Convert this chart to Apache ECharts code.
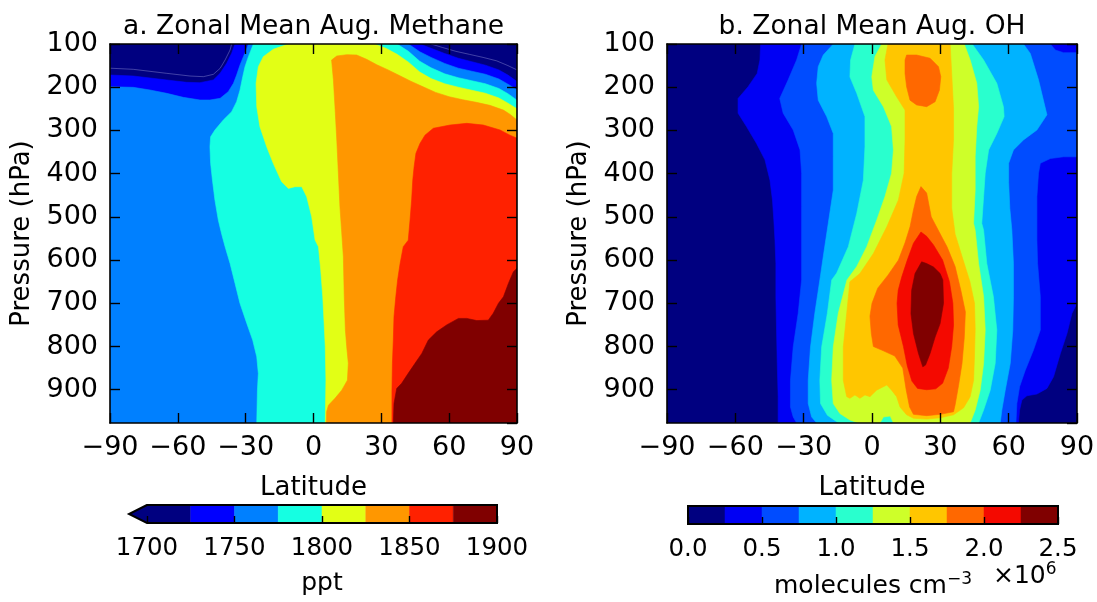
<!DOCTYPE html>
<html>
<head>
<meta charset="utf-8">
<script src="https://cdn.jsdelivr.net/npm/echarts@6/dist/echarts.min.js"></script>
<style>
  html, body { margin: 0; padding: 0; background: #fff; }
  #chart { width: 1097px; height: 602px; }
</style>
</head>
<body>
<div id="chart"></div>
<script>
// contour levels and fill colours (jet samples, as in the colorbars)
const ch4Levels = [1700, 1725, 1750, 1775, 1800, 1825, 1850, 1875, 1900]
const ch4Colors = ['#000080', '#0000ff', '#0080ff', '#15ffe2', '#e2ff15', '#ff9700', '#ff2100', '#800000']
const ch4Under = '#000080'
const ohLevels = [0, 0.25, 0.5, 0.75, 1.0, 1.25, 1.5, 1.75, 2.0, 2.25, 2.5]
const ohColors = ['#000080', '#0000f4', '#004cff', '#00b3ff', '#29ffce', '#ceff29', '#ffc600', '#ff6800', '#f40900', '#800000']

// methane: region above each level, as [latitude, hPa] outlines
const ch4Ge1725 = [[-90,171.8],[-79.7,174.1],[-64.9,183.3],[-56.1,188.7],[-50.2,189.5],[-44.3,183.3],[-41.3,167.9],[-38.4,144.8],[-36.2,121.6],[-34.7,100],
  [47,100],[52,110],[58,122],[64,133],[70,141],[76,149],[82,160],[86,172],[90,187],[90,977],[-90,977]]
const ch4Ge1750 = [[-90,198.8],[-79.7,200.3],[-72.3,206.5],[-64.9,214.2],[-57.6,223.5],[-50.2,229.6],[-45.8,229.6],[-41.3,225.8],[-37.7,210.3],[-35.4,191],[-34,171.8],[-32.5,148.6],[-31,129.3],[-29.5,110],[-28.8,100],
  [42,100],[47,118],[52,131],[58,145],[64,156],[70,163],[76,170],[82,181],[86,193],[90,206],[90,977],[-90,977]]
const ch4Ge1775 = [[-26.6,100],[-28.8,129.3],[-30.3,152.5],[-31.3,175.6],[-32.5,206.5],[-34,233.5],[-36.2,256.6],[-39.9,275.9],[-43.6,299.1],[-45.5,314.5],[-45.8,337.7],[-45.5,376.2],[-44.7,414.8],[-43.6,461.1],[-42.1,507.4],[-40.6,540],[-39.1,569.2],[-36.9,607.8],[-34.7,654.1],[-32.5,700.4],[-29.5,746.6],[-26.9,785.2],[-25.1,823.8],[-24.4,862.4],[-24.8,901],[-25.1,977],
  [90,977],[90,230],[86,215],[82,203],[76,192],[70,185],[64,178],[58,169],[52,155],[47,140],[42,117],[37,100]]
const ch4Ge1800 = [[-11.1,100],[-17.8,112.3],[-22.2,129.3],[-24.4,152.5],[-25.4,191.1],[-25.1,245.1],[-23.7,291.4],[-20.7,337.7],[-17.8,376.2],[-14.1,418.7],[-11.1,434.1],[-8.2,430.2],[-5.2,430.2],[-3,453.4],[-0.8,499.7],[0.7,553.7],[2.2,569.2],[3.2,623.2],[4.1,684.9],[4.7,746.6],[5.2,800.7],[5.5,877.8],[5.2,977],
  [90,977],[90,250],[86,237],[82,225],[76,214],[70,207],[64,200],[58,192],[52,180],[47,165],[42,142],[37,124],[32,110],[27,100]]
const ch4Ge1825 = [[5.7,977],[5.8,951],[6.6,936],[9.5,920],[12.5,901],[15,878],[15.4,839],[14.7,801],[14.1,762],[13.6,685],[13.2,592],[12.4,530],[11.7,477],[11,399],[10.3,322],[9.5,245],[8.8,183],[8,137],[10.3,127.8],[14.7,124.7],[19.1,125.5],[23.5,135.5],
  [28,148],[33,160],[38,173],[43,186],[48,198],[54,212],[60,222],[66,229],[72,235],[78,242],[84,253],[87,263],[90,276],[90,977]]
const ch4Ge1850 = [[34.7,977],[34.7,901],[34.9,839],[35.3,785],[35.6,731],[36.4,685],[37.2,646],[38.3,608],[39.7,569],[41.9,554],[42.7,507],[43.4,461],[43.9,415],[44.5,384],[45.3,353],[47.1,330],[49.3,311],[53,295],[60.4,287.5],[67.8,283.6],[75.1,287.5],[82.5,299],[86.9,311],[90,318],[90,977]]
const ch4Ge1875 = [[35.3,977],[35.6,932],[36.8,897],[39,885],[41.9,862],[44.9,839],[47.9,816],[50.8,785],[54.5,766],[58.9,750],[64.1,735],[67.8,735],[72.2,740],[77.3,739],[79.5,723],[81.8,700],[84,685],[86.2,654],[88.4,627],[90,619],[90,977]]
// faint 1700 ppt edges inside the navy area
const ch4Seam1700L = [[-90,156],[-79.7,158.6],[-64.9,167.9],[-54.6,174.1],[-48.7,175.6],[-44.3,170.2],[-41.3,156.3],[-39.1,137],[-36.9,113.9],[-36.2,100]]
const ch4Seam1700R = [[52,100],[57,108],[63,117],[69,124],[75,131],[81,139],[86,150],[90,160]]

// OH (1e6 molecules cm-3): region above each level
const ohGe025 = [[-48.9,100],[-49.2,137],[-50.4,168],[-54.4,199],[-58.8,226],[-58.8,260],[-55.1,291],[-50.7,330],[-47,368],[-44.8,415],[-43.7,461],[-43.1,507],[-42.6,554],[-42.2,608],[-42.2,685],[-41.9,762],[-41.6,839],[-41.2,916],[-41.2,977],
  [64.3,977],[64.8,947],[65.8,924],[68,914],[72.4,910],[76.8,897],[79.7,870],[82.7,816],[85.6,770],[87.8,723],[90,700],[90,100]]
const ohGe050 = [[-30.9,100],[-33.1,137],[-36.8,183],[-40.5,226],[-39,260],[-34.6,299],[-31.6,345],[-30.9,399],[-30.9,477],[-30.9,646],[-32.4,723],[-34.6,801],[-35.8,878],[-35.8,940],[-34.6,963],[-33.1,977],
  [63.2,977],[63.6,932],[64.8,893],[67.3,855],[70.9,808],[73.9,762],[73.9,685],[72.7,608],[72.4,554],[72.4,507],[72.4,453],[73.1,399],[73.9,376],[78.3,365],[84.1,361],[90,361],[90,120],[84.1,120],[80.5,114],[78.3,100]]
const ohGe075 = [[-17,100],[-21.4,125.5],[-23.6,152.5],[-24.3,191],[-23.6,230],[-19.9,268],[-17,307],[-17,361],[-17,438],[-19.2,515],[-21.4,592],[-22.9,646],[-25.1,723],[-27,801],[-28,878],[-28,932],[-26.5,963],[-24.3,977],
  [56.3,977],[57,947],[58.5,901],[60.7,839],[61.8,762],[62.1,685],[62.1,608],[61.4,531],[60.5,480],[60,420],[60,376],[62.1,345],[66.5,322],[72.4,299],[76.8,264],[73.1,183],[69.5,122],[66.5,100]]
const ohGe100 = [[-7.5,100],[-9.4,137],[-9.7,176],[-6.7,214],[-3.1,268],[-3.1,338],[-3.8,415],[-6.7,492],[-10.4,569],[-15.5,630],[-17.7,646],[-19.6,723],[-22.1,801],[-22.9,878],[-22.6,932],[-19.6,959],[-15.5,974],[-14,977],
  [46.8,977],[49,947],[51.9,901],[54.1,839],[54.8,762],[53.3,685],[50.4,608],[49,531],[48.2,515],[49,453],[49.7,399],[51.2,345],[54.8,307],[58,268],[57.7,245],[54.8,191],[49,137],[44,100]]
const ohGe125 = [[4.3,100],[1.3,129],[-0.1,176],[0.6,207],[5,245],[8.6,291],[9.4,345],[8.6,399],[5.7,453],[2.1,507],[-2.3,569],[-6.7,615],[-11,646],[-14.8,723],[-17,801],[-17.7,878],[-17,932],[-14.1,955],[-9.7,970],[-6,977],
  [3.5,977],[5,963],[8,961],[9.4,977],
  [43.1,977],[45.3,947],[47.5,901],[49,839],[49.7,762],[49,685],[46.8,608],[45.3,531],[44.6,515],[45.3,438],[45.3,361],[46,291],[46.8,245],[46,191],[43.1,137],[40.5,100]]
const ohGe150 = [[7,100],[5.7,137],[6.5,183],[10.8,222],[14.5,253],[14.5,322],[14.1,399],[11.6,461],[6.5,523],[0.6,585],[-5.3,631],[-9.7,650],[-11.1,723],[-12.6,801],[-12.6,878],[-11.1,916],[-9.7,920],[-7.5,912],[-5.3,920],[-3.1,912],[-0.9,916],[2,901],[5,893],[6.5,889],[8.6,901],[10.8,916],[12.3,940],[15.2,958],[18.2,966],[24,968],[29.9,965],[35.8,958],[40.2,942],[43.1,916],[44.6,878],[45,820],[45.3,760],[45,700],[43,650],[40,600],[36.5,540],[35,480],[35,400],[35.8,320],[35.8,250],[35,170],[34.3,100]]
const ohGe175Top = [[14.5,137],[15.2,125.5],[19.6,125.5],[25.5,133],[29.2,152.5],[30.2,175.6],[29.6,206.5],[27.7,233.5],[24,245],[19.6,241],[16.7,230],[15.2,199],[14.5,168]]
const ohGe175Low = [[21.5,430],[19.6,453],[18.2,484],[16.7,523],[14.5,560],[11.6,600],[7,635],[2.5,665],[0,700],[-0.9,730],[-0.3,770],[0.6,800],[5,810],[10,822],[13.5,850],[15,900],[16.5,940],[18.2,957],[24,960],[30,957],[35.8,951],[36.5,935],[38,890],[39.5,840],[40.5,780],[41,720],[39,670],[36.5,615],[33,570],[29.5,535],[26,500],[24,445]]
const ohGe200 = [[21.5,535],[18.2,561],[15.5,600],[13,640],[11.5,670],[11,700],[11.5,750],[13.8,800],[15.5,845],[17.5,880],[20,897],[24,900],[28,898],[31,885],[33.5,850],[35,800],[35.8,750],[35.5,700],[34,650],[31,600],[27,565],[24,545]]
const ohGe225 = [[21.8,604],[18.9,631],[17.4,670],[17.1,724],[18.2,770],[20.4,816],[22.3,847],[23.5,843],[25.5,816],[27.7,778],[29.9,747],[31.4,700],[31.1,646],[29.9,631],[27,616],[24,608]]

const ch4Contours = [[1725, ch4Ge1725], [1750, ch4Ge1750], [1775, ch4Ge1775], [1800, ch4Ge1800], [1825, ch4Ge1825], [1850, ch4Ge1850], [1875, ch4Ge1875]]
const ohContours = [[0.25, ohGe025], [0.5, ohGe050], [0.75, ohGe075], [1.0, ohGe100], [1.25, ohGe125], [1.5, ohGe150], [1.75, ohGe175Top], [1.75, ohGe175Low], [2.0, ohGe200], [2.25, ohGe225]]

const FONT = "'DejaVu Sans', sans-serif"
const black = '#000'
const minus = v => (v < 0 ? '\u2212' + (-v) : String(v))

function contourItem(list, levels, colors) {
  return function (params, api) {
    const c = list[params.dataIndex]
    const color = colors[levels.indexOf(c[0])]
    return {
      type: 'polygon',
      shape: { points: c[1].map(pt => api.coord(pt)) },
      style: { fill: color, stroke: color, lineWidth: 0.6 }
    }
  }
}

function seamItem(list) {
  return function (params, api) {
    return {
      type: 'polyline',
      shape: { points: list[params.dataIndex].map(pt => api.coord(pt)) },
      style: { fill: null, stroke: 'rgba(150,150,215,0.55)', lineWidth: 0.8 }
    }
  }
}

function bandItem(levels, colors) {
  return function (params, api) {
    const i = params.dataIndex
    const p0 = api.coord([levels[i], 0])
    const p1 = api.coord([levels[i + 1], 1])
    return {
      type: 'rect',
      shape: { x: p0[0], y: p1[1], width: p1[0] - p0[0], height: p0[1] - p1[1] },
      style: { fill: colors[i], stroke: colors[i], lineWidth: 0.5 }
    }
  }
}

function frameItem(levels, under) {
  return function (params, api) {
    const a = api.coord([levels[0], 0])
    const b = api.coord([levels[levels.length - 1], 1])
    const children = []
    let outline
    if (under) {
      const tip = [a[0] - 18, (a[1] + b[1]) / 2]
      children.push({ type: 'polygon', shape: { points: [tip, [a[0], b[1]], [a[0], a[1]]] }, style: { fill: under } })
      outline = [[a[0], b[1]], tip, [a[0], a[1]], [b[0], a[1]], [b[0], b[1]]]
    } else {
      outline = [[a[0], b[1]], [a[0], a[1]], [b[0], a[1]], [b[0], b[1]]]
    }
    children.push({ type: 'polygon', shape: { points: outline }, style: { fill: null, stroke: black, lineWidth: 2 } })
    return { type: 'group', children: children }
  }
}

function mainX(grid, pos) {
  const bottom = pos === 'bottom'
  return {
    type: 'value', gridIndex: grid, position: pos, min: -90, max: 90, interval: 30, z: 5,
    axisLine: { show: true, onZero: false, lineStyle: { color: black, width: 1.6 } },
    axisTick: { show: true, inside: true, length: 10, lineStyle: { color: black, width: 1.4 } },
    axisLabel: { show: bottom, margin: 11, color: black, fontSize: 27, fontFamily: FONT, formatter: minus },
    splitLine: { show: false },
    name: bottom ? 'Latitude' : '', nameLocation: 'middle', nameGap: 52,
    nameTextStyle: { color: black, fontSize: 26, fontFamily: FONT }
  }
}

function mainY(grid, pos) {
  const left = pos === 'left'
  return {
    type: 'value', gridIndex: grid, position: pos, inverse: true, min: 100, max: 977, interval: 100, z: 5,
    axisLine: { show: true, onZero: false, lineStyle: { color: black, width: 1.6 } },
    axisTick: { show: true, inside: true, length: 10, lineStyle: { color: black, width: 1.4 } },
    axisLabel: { show: left, margin: 12, color: black, fontSize: 27, fontFamily: FONT, showMaxLabel: false,
      formatter: v => (v % 100 === 0 ? String(v) : '') },
    splitLine: { show: false },
    name: left ? 'Pressure (hPa)' : '', nameLocation: 'middle', nameRotate: 90, nameGap: 75,
    nameTextStyle: { color: black, fontSize: 26, fontFamily: FONT }
  }
}

function barX(grid, levels, interval, fmt, name, gap) {
  return {
    type: 'value', gridIndex: grid, min: levels[0], max: levels[levels.length - 1], interval: interval, z: 5,
    axisLine: { show: false },
    axisTick: { show: true, inside: true, length: 7, lineStyle: { color: black, width: 1.4 } },
    axisLabel: { margin: 13, color: black, fontSize: 24.5, fontFamily: FONT, formatter: fmt },
    splitLine: { show: false },
    name: name, nameLocation: 'middle', nameGap: gap,
    nameTextStyle: { color: black, fontSize: 25, fontFamily: FONT,
      rich: { sup: { fontSize: 17, fontFamily: FONT, color: black, padding: [0, 0, 14, 0] } } }
  }
}

const chart = echarts.init(document.getElementById('chart'), null, { renderer: 'canvas' })
const option = {
  backgroundColor: '#fff',
  animation: false,
  title: [
    { text: 'a. Zonal Mean Aug. Methane', left: 313.5, top: 14, textAlign: 'center', padding: 0,
      textStyle: { color: black, fontSize: 26.5, fontWeight: 'normal', fontFamily: FONT } },
    { text: 'b. Zonal Mean Aug. OH', left: 872, top: 14, textAlign: 'center', padding: 0,
      textStyle: { color: black, fontSize: 26.5, fontWeight: 'normal', fontFamily: FONT } },
    { text: '\u00d710{sup|6}', left: 993, top: 561, padding: 0,
      textStyle: { color: black, fontSize: 25, fontWeight: 'normal', fontFamily: FONT,
        rich: { sup: { fontSize: 17, fontFamily: FONT, color: black, padding: [0, 0, 14, 0] } } } }
  ],
  grid: [
    { left: 110, top: 44, width: 407, height: 379, show: true, backgroundColor: ch4Under, borderWidth: 0, outerBoundsMode: 'none' },
    { left: 667, top: 44, width: 410, height: 379, show: true, backgroundColor: ohColors[0], borderWidth: 0, outerBoundsMode: 'none' },
    { left: 147, top: 505, width: 350, height: 18, outerBoundsMode: 'none' },
    { left: 688, top: 506, width: 370, height: 18, outerBoundsMode: 'none' }
  ],
  xAxis: [
    mainX(0, 'bottom'), mainX(0, 'top'), mainX(1, 'bottom'), mainX(1, 'top'),
    barX(2, ch4Levels, 50, v => String(v), 'ppt', 48),
    barX(3, ohLevels, 0.5, v => v.toFixed(1), 'molecules cm{sup|\u22123}', 47)
  ],
  yAxis: [
    mainY(0, 'left'), mainY(0, 'right'), mainY(1, 'left'), mainY(1, 'right'),
    { type: 'value', gridIndex: 2, min: 0, max: 1, show: false },
    { type: 'value', gridIndex: 3, min: 0, max: 1, show: false }
  ],
  series: [
    { type: 'custom', xAxisIndex: 0, yAxisIndex: 0, clip: true, z: 2, silent: true,
      data: ch4Contours.map(c => c[1][0]), renderItem: contourItem(ch4Contours, ch4Levels, ch4Colors) },
    { type: 'custom', xAxisIndex: 0, yAxisIndex: 0, clip: true, z: 3, silent: true,
      data: [ch4Seam1700L[0], ch4Seam1700R[0]], renderItem: seamItem([ch4Seam1700L, ch4Seam1700R]) },
    { type: 'custom', xAxisIndex: 2, yAxisIndex: 2, clip: true, z: 2, silent: true,
      data: ohContours.map(c => c[1][0]), renderItem: contourItem(ohContours, ohLevels, ohColors) },
    { type: 'custom', xAxisIndex: 4, yAxisIndex: 4, z: 2, silent: true,
      data: ch4Colors.map((c, i) => [ch4Levels[i], 0]), renderItem: bandItem(ch4Levels, ch4Colors) },
    { type: 'custom', xAxisIndex: 4, yAxisIndex: 4, z: 3, silent: true,
      data: [[ch4Levels[0], 0]], renderItem: frameItem(ch4Levels, ch4Under) },
    { type: 'custom', xAxisIndex: 5, yAxisIndex: 5, z: 2, silent: true,
      data: ohColors.map((c, i) => [ohLevels[i], 0]), renderItem: bandItem(ohLevels, ohColors) },
    { type: 'custom', xAxisIndex: 5, yAxisIndex: 5, z: 3, silent: true,
      data: [[ohLevels[0], 0]], renderItem: frameItem(ohLevels, null) }
  ]
}
chart.setOption(option)
window.addEventListener('resize', () => chart.resize())
</script>
</body>
</html>
